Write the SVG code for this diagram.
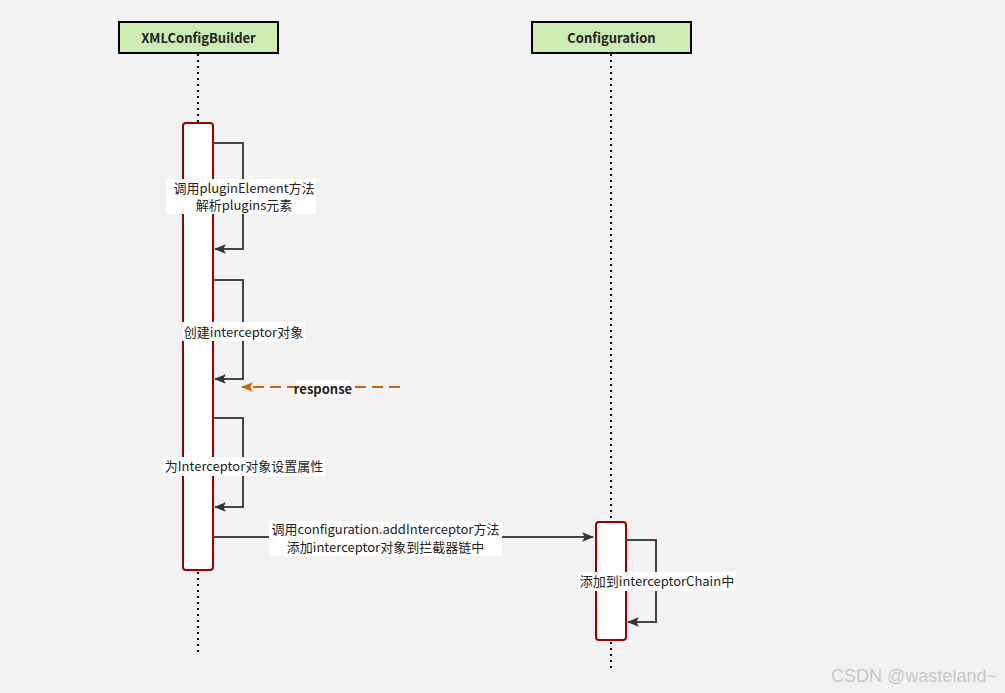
<svg xmlns="http://www.w3.org/2000/svg" width="1005" height="693" viewBox="0 0 1005 693">
<defs>
<style>
.hdr{fill:#cdebb3;stroke:#000;stroke-width:2}
.hdrt{font-family:"Noto Sans CJK SC","Noto Sans",sans-serif;font-size:13px;font-weight:bold;fill:#222;text-anchor:middle}
.life{stroke:#000;stroke-width:2;stroke-dasharray:2 4;fill:none}
.act{fill:#fff;stroke:#990000;stroke-width:2}
.msg{stroke:#444;stroke-width:2;fill:none}
.lbl{font-family:"Noto Sans CJK SC","Noto Sans",sans-serif;font-size:13px;fill:#222;text-anchor:middle}
.bg{fill:#fff}
.resp{stroke:#cc6600;stroke-width:2;stroke-dasharray:11 6;fill:none}
</style>
<marker id="arr" viewBox="0 0 10 10" refX="9" refY="5" markerWidth="6" markerHeight="6" orient="auto" markerUnits="strokeWidth">
<path d="M0,1 L10,5 L0,9 L2,5 z" fill="#333"/>
</marker>
<marker id="arrO" viewBox="0 0 10 10" refX="9" refY="5" markerWidth="6" markerHeight="6" orient="auto" markerUnits="strokeWidth">
<path d="M0,1 L10,5 L0,9 L2,5 z" fill="#cc6600"/>
</marker>
</defs>
<rect width="1005" height="693" fill="#f2f2f2"/>

<g id="lifelines">
<line class="life" x1="198" y1="54" x2="198" y2="122"/>
<line class="life" x1="198" y1="572" x2="198" y2="656"/>
<line class="life" x1="611" y1="54" x2="611" y2="521"/>
<line class="life" x1="611" y1="642" x2="611" y2="672"/>
</g>

<g id="XMLConfigBuilder">
<rect class="hdr" x="119" y="22" width="159" height="31"/>
<text class="hdrt" x="198.5" y="42.5">XMLConfigBuilder</text>
</g>
<g id="Configuration">
<rect class="hdr" x="532" y="22" width="159" height="31"/>
<text class="hdrt" x="611.5" y="42.5">Configuration</text>
</g>

<g id="activation1">
<rect class="act" x="183" y="123" width="30" height="447" rx="3"/>
</g>
<g id="activation2">
<rect class="act" x="596" y="522" width="30" height="118" rx="3"/>
</g>

<g id="connectors">
<polyline class="msg" points="213,143 243,143 243,249 215,249" marker-end="url(#arr)"/>
<polyline class="msg" points="213,280 243,280 243,379 215,379" marker-end="url(#arr)"/>
<polyline class="msg" points="213,418 243,418 243,507 215,507" marker-end="url(#arr)"/>
<line class="resp" x1="400" y1="387" x2="242" y2="387" marker-end="url(#arrO)"/>
<line class="msg" x1="213" y1="537" x2="593" y2="537" marker-end="url(#arr)"/>
<polyline class="msg" points="626,540 656,540 656,622 628,622" marker-end="url(#arr)"/>
</g>

<g id="labels">
<rect class="bg" x="166" y="179" width="150" height="35"/>
<text class="lbl" x="244" y="193">调用pluginElement方法</text>
<text class="lbl" x="244" y="210">解析plugins元素</text>

<rect class="bg" x="182" y="322" width="123" height="19"/>
<text class="lbl" x="243.5" y="337">创建interceptor对象</text>

<rect class="bg" x="296" y="380" width="54" height="18"/>
<text class="lbl" x="323" y="394" font-weight="bold">response</text>

<rect class="bg" x="163" y="457" width="162" height="19"/>
<text class="lbl" x="244" y="471">为Interceptor对象设置属性</text>

<rect class="bg" x="269" y="521" width="233" height="35"/>
<text class="lbl" x="385.5" y="534">调用configuration.addInterceptor方法</text>
<text class="lbl" x="385.5" y="552">添加interceptor对象到拦截器链中</text>

<rect class="bg" x="578" y="572" width="158" height="19"/>
<text class="lbl" x="657" y="586">添加到interceptorChain中</text>
</g>

<text x="914" y="682" font-family="'Liberation Sans',Arial,sans-serif" font-size="18" fill="#c8c8c8" text-anchor="middle">CSDN @wasteland~</text>
</svg>
